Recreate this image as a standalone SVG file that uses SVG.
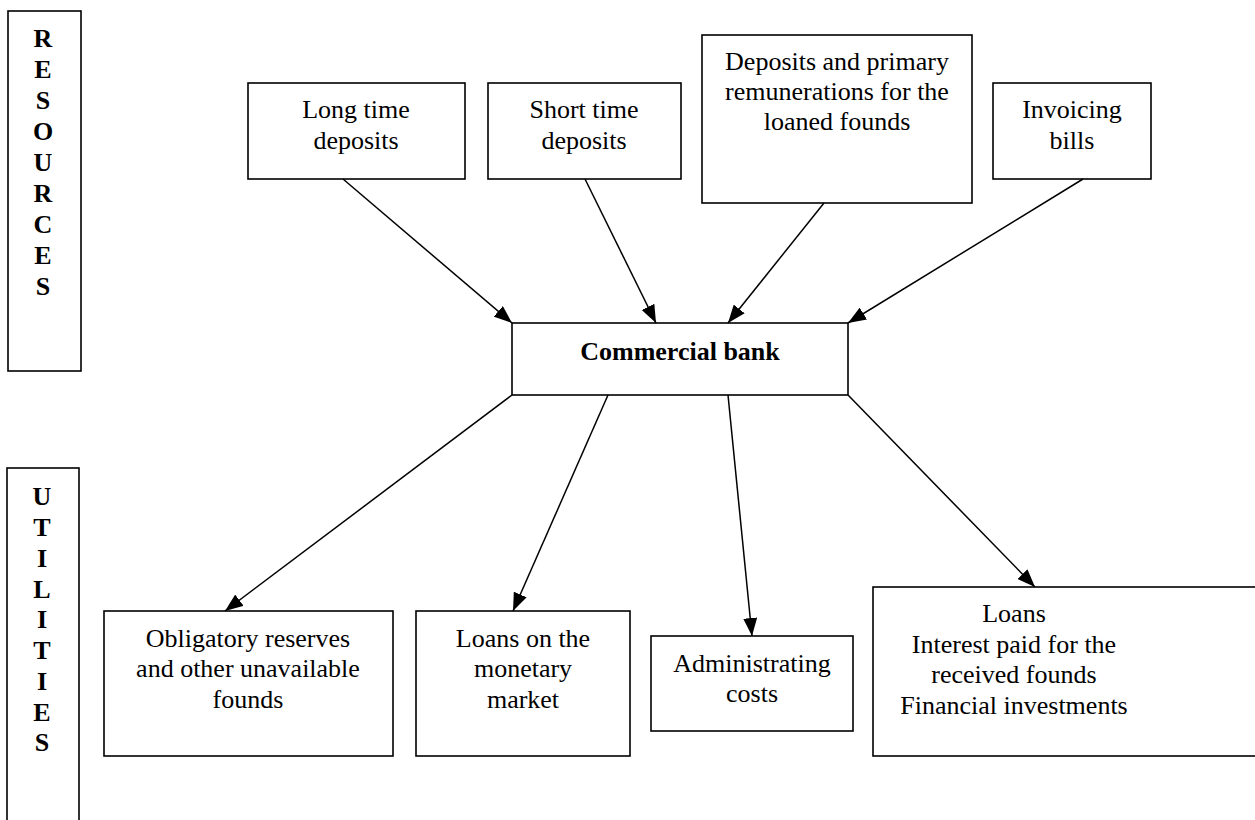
<svg xmlns="http://www.w3.org/2000/svg" width="1255" height="820" viewBox="0 0 1255 820">
  <style>
    .box { fill: #ffffff; stroke: #000000; stroke-width: 1.6; }
    .lbl { font-family: "Liberation Serif", "Times New Roman", serif; font-size: 26px; fill: #000000; text-anchor: middle; }
    .bold { font-weight: bold; }
    .edge { stroke: #000000; stroke-width: 1.5; fill: none; marker-end: url(#arrow); }
  </style>
  <defs>
    <marker id="arrow" markerUnits="userSpaceOnUse" markerWidth="18" markerHeight="14" viewBox="0 0 18 14" refX="18" refY="7" orient="auto">
      <path d="M0,0 L18,7 L0,14 Z" fill="#000000"/>
    </marker>
  </defs>
  <rect width="1255" height="820" fill="#ffffff"/>

  <!-- side labels -->
  <g id="resources">
    <rect class="box" x="8" y="11" width="73" height="360"/>
    <text class="lbl bold" x="43" y="47">R</text>
    <text class="lbl bold" x="43" y="78">E</text>
    <text class="lbl bold" x="43" y="109">S</text>
    <text class="lbl bold" x="43" y="140">O</text>
    <text class="lbl bold" x="43" y="171">U</text>
    <text class="lbl bold" x="43" y="202">R</text>
    <text class="lbl bold" x="43" y="233">C</text>
    <text class="lbl bold" x="43" y="264">E</text>
    <text class="lbl bold" x="43" y="295">S</text>
  </g>
  <g id="utilities">
    <rect class="box" x="7" y="468" width="72" height="370"/>
    <text class="lbl bold" x="42" y="505">U</text>
    <text class="lbl bold" x="42" y="536">T</text>
    <text class="lbl bold" x="42" y="567">I</text>
    <text class="lbl bold" x="42" y="598">L</text>
    <text class="lbl bold" x="42" y="628">I</text>
    <text class="lbl bold" x="42" y="659">T</text>
    <text class="lbl bold" x="42" y="690">I</text>
    <text class="lbl bold" x="42" y="721">E</text>
    <text class="lbl bold" x="42" y="751">S</text>
  </g>

  <!-- resource nodes -->
  <g id="long-time">
    <rect class="box" x="248" y="83" width="217" height="96"/>
    <text class="lbl" x="356" y="118">Long time</text>
    <text class="lbl" x="356" y="149">deposits</text>
  </g>
  <g id="short-time">
    <rect class="box" x="488" y="83" width="193" height="96"/>
    <text class="lbl" x="584" y="118">Short time</text>
    <text class="lbl" x="584" y="149">deposits</text>
  </g>
  <g id="deposits-primary">
    <rect class="box" x="702" y="35" width="270" height="168"/>
    <text class="lbl" x="837" y="70">Deposits and primary</text>
    <text class="lbl" x="837" y="100">remunerations for the</text>
    <text class="lbl" x="837" y="130">loaned founds</text>
  </g>
  <g id="invoicing">
    <rect class="box" x="993" y="83" width="158" height="96"/>
    <text class="lbl" x="1072" y="118">Invoicing</text>
    <text class="lbl" x="1072" y="149">bills</text>
  </g>

  <!-- central node -->
  <g id="bank">
    <rect class="box" x="512" y="323" width="336" height="72"/>
    <text class="lbl bold" x="680" y="360">Commercial bank</text>
  </g>

  <!-- utility nodes -->
  <g id="reserves">
    <rect class="box" x="104" y="611" width="289" height="145"/>
    <text class="lbl" x="248" y="647">Obligatory reserves</text>
    <text class="lbl" x="248" y="677">and other unavailable</text>
    <text class="lbl" x="248" y="708">founds</text>
  </g>
  <g id="monetary">
    <rect class="box" x="416" y="611" width="214" height="145"/>
    <text class="lbl" x="523" y="647">Loans on the</text>
    <text class="lbl" x="523" y="677">monetary</text>
    <text class="lbl" x="523" y="708">market</text>
  </g>
  <g id="admin">
    <rect class="box" x="651" y="636" width="202" height="95"/>
    <text class="lbl" x="752" y="672">Administrating</text>
    <text class="lbl" x="752" y="702">costs</text>
  </g>
  <g id="loans">
    <rect class="box" x="873" y="587" width="392" height="169"/>
    <text class="lbl" x="1014" y="622">Loans</text>
    <text class="lbl" x="1014" y="653">Interest paid for the</text>
    <text class="lbl" x="1014" y="683">received founds</text>
    <text class="lbl" x="1014" y="714">Financial investments</text>
  </g>

  <!-- connectors -->
  <g id="connectors">
    <line class="edge" x1="343" y1="179" x2="512" y2="323"/>
    <line class="edge" x1="585" y1="179" x2="656" y2="323"/>
    <line class="edge" x1="824" y1="203" x2="728" y2="323"/>
    <line class="edge" x1="1083" y1="179" x2="848" y2="323"/>
    <line class="edge" x1="512" y1="395" x2="225" y2="611"/>
    <line class="edge" x1="608" y1="395" x2="513" y2="611"/>
    <line class="edge" x1="728" y1="395" x2="752" y2="636"/>
    <line class="edge" x1="848" y1="395" x2="1035" y2="587"/>
  </g>
</svg>
